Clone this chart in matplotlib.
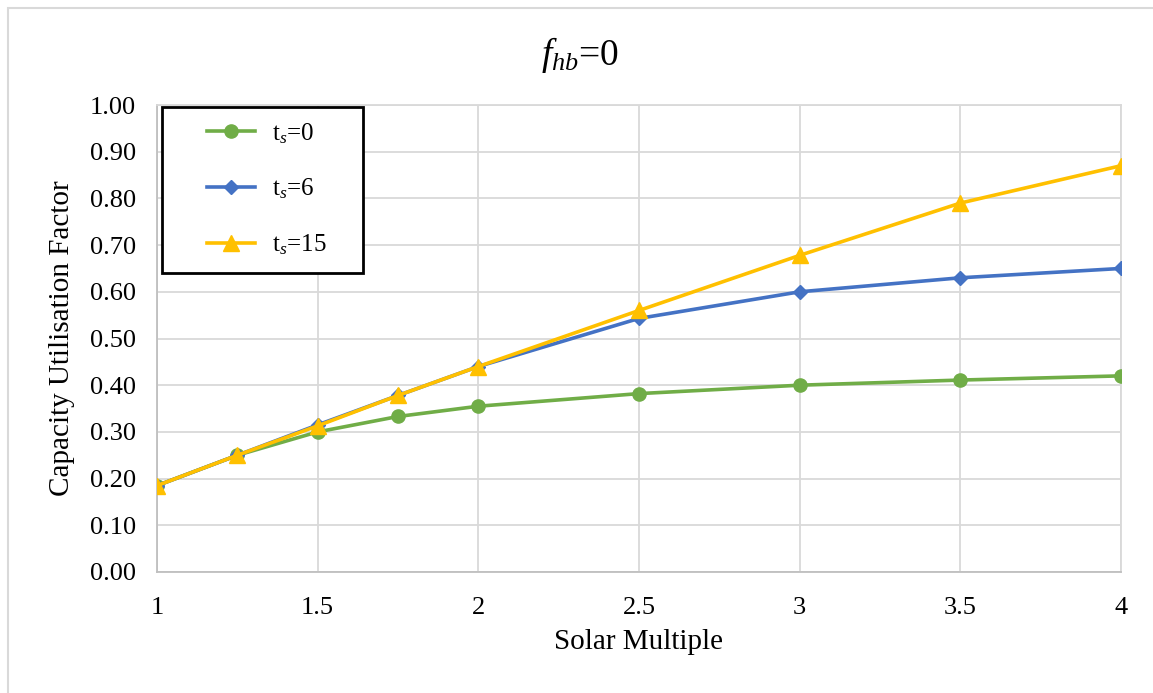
import matplotlib
matplotlib.use("Agg")
import matplotlib.pyplot as plt
from matplotlib.patches import Rectangle

plt.rcParams["font.family"] = ["Liberation Serif", "DejaVu Serif"]
plt.rcParams["mathtext.fontset"] = "custom"
plt.rcParams["mathtext.rm"] = "Liberation Serif"
plt.rcParams["mathtext.it"] = "Liberation Serif:italic"

solar_multiple = [1, 1.25, 1.5, 1.75, 2, 2.5, 3, 3.5, 4]
cuf_ts0 = [0.185, 0.250, 0.300, 0.333, 0.355, 0.382, 0.400, 0.411, 0.420]
cuf_ts6 = [0.185, 0.250, 0.315, 0.378, 0.440, 0.543, 0.600, 0.630, 0.650]
cuf_ts15 = [0.185, 0.250, 0.313, 0.378, 0.440, 0.560, 0.678, 0.790, 0.870]

x_ticks = [1, 1.5, 2, 2.5, 3, 3.5, 4]
y_ticks = [0.0, 0.1, 0.2, 0.3, 0.4, 0.5, 0.6, 0.7, 0.8, 0.9, 1.0]

GREEN = "#70AD47"
BLUE = "#4472C4"
GOLD = "#FFC000"
GRID = "#D9D9D9"

W, H = 1153, 693
fig = plt.figure(figsize=(W / 100, H / 100), dpi=100)
fig.patches.append(Rectangle((8 / W, -0.05), 1.1, (H - 8) / H + 0.05,
                             transform=fig.transFigure, fill=False,
                             edgecolor=GRID, linewidth=1.5))
# plot area: x 157..1121, y 105..572 px
ax = fig.add_axes([157 / W, (H - 572) / H, 964 / W, 467 / H])

ax.plot(solar_multiple, cuf_ts0, color=GREEN, lw=2.6, marker="o", ms=9.5,
        label=r"t$_s$=0", zorder=3)
ax.plot(solar_multiple, cuf_ts6, color=BLUE, lw=2.6, marker="D", ms=7.5,
        label=r"t$_s$=6", zorder=4)
ax.plot(solar_multiple, cuf_ts15, color=GOLD, lw=2.6, marker="^", ms=11,
        label=r"t$_s$=15", zorder=5)

ax.set_xlim(1, 4)
ax.set_ylim(0, 1.0)
ax.set_xticks(x_ticks)
ax.set_xticklabels([f"{v:g}" for v in x_ticks])
ax.set_yticks(y_ticks)
ax.set_yticklabels([f"{v:.2f}" for v in y_ticks])
ax.tick_params(axis="both", length=0, labelsize=19)
ax.tick_params(axis="y", pad=15)
ax.tick_params(axis="x", pad=18)
ax.grid(True, color=GRID, lw=1.3)
ax.set_axisbelow(True)
for side in ["top", "right"]:
    ax.spines[side].set_color(GRID)
    ax.spines[side].set_linewidth(1.3)
for side in ["left", "bottom"]:
    ax.spines[side].set_color("#BFBFBF")
    ax.spines[side].set_linewidth(1.3)

ax.set_xlabel("Solar Multiple", fontsize=21, labelpad=7)
ax.set_ylabel("Capacity Utilisation Factor", fontsize=21, labelpad=11)
fig.text(580 / W, 1 - 55 / H, r"$f_{hb}$=0", fontsize=27,
         ha="center", va="center")

# legend box drawn by hand so it can sit over the top-left corner
box = Rectangle((162 / W, 1 - 273 / H), 201 / W, 166 / H,
                transform=fig.transFigure, facecolor="white",
                edgecolor="black", linewidth=2, zorder=10, clip_on=False)
ax.add_artist(box)
leg = ax.legend(loc="upper left", bbox_to_anchor=(207 / W, 1 - 121 / H),
                bbox_transform=fig.transFigure, fontsize=18, frameon=False,
                borderpad=0, borderaxespad=0, labelspacing=1.25,
                handlelength=1.9, handletextpad=0.7)
leg.set_zorder(11)

fig.savefig("out.png", dpi=100)
